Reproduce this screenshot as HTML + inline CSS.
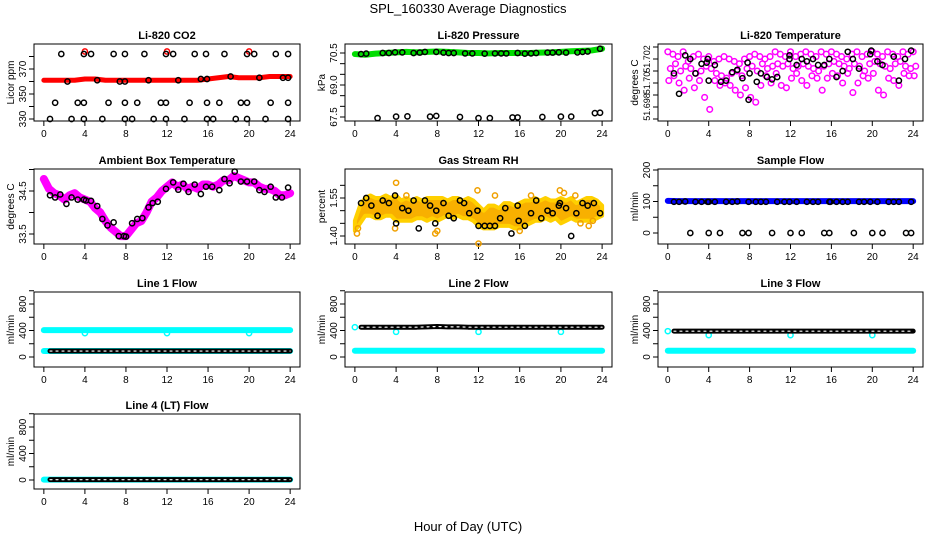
<!DOCTYPE html>
<html><head><meta charset="utf-8"><style>
html,body{margin:0;padding:0;background:#fff}
svg{display:block;font-family:"Liberation Sans",Arial,sans-serif}
</style></head><body>
<svg id="c" width="936" height="540" viewBox="0 0 936 540" xmlns="http://www.w3.org/2000/svg">
<text x="468" y="13" text-anchor="middle" font-size="13">SPL_160330  Average Diagnostics</text>
<text x="468" y="531" text-anchor="middle" font-size="13">Hour of Day (UTC)</text>
</svg>
<script>
// ---------- data ----------
const hours = [0,1,2,3,4,5,6,7,8,9,10,11,12,13,14,15,16,17,18,19,20,21,22,23,24];
const co2Red = [361,361,361,361,362,362,361,361,361,361,361,361,361,361,361,361,362,363,364,363,363,363,364,364,364];
const co2RedOutT = [4,12,20];
const co2RedOutV = [384,384,384];
const co2BlackT = [1.7,3.9,4.6,6.8,7.9,9.8,11.9,12.6,14.7,15.8,17.6,19.8,20.5,22.6,23.8, 2.3,5.2,7.4,7.9,10.2,13.1,15.3,15.9,18.2,21,23.3,23.8, 1.1,3.3,3.9,6.3,7.9,9.1,11.4,11.9,14.2,15.9,17.1,19.2,19.8,22.1,23.8, 0.6,2.7,3.9,5.7,7.9,8.6,10.7,11.9,13.7,15.9,16.5,18.7,19.8,21.6,23.8];
const co2BlackV = [382,382,382,382,382,382,382,382,382,382,382,382,382,382,382, 360,361,360,360,361,361,362,362,364,363,363,363, 343,343,343,343,343,343,343,343,343,343,343,343,343,343,343, 330,330,330,330,330,330,330,330,330,330,330,330,330,330,330];

const presGreen = [70.45,70.42,70.47,70.5,70.53,70.55,70.53,70.55,70.57,70.55,70.53,70.5,70.5,70.48,70.5,70.5,70.5,70.5,70.52,70.53,70.55,70.58,70.6,70.62,70.7];
const presBlackT = [0.6,1.1,2.7,3.3,3.9,4.6,5.7,6.3,6.8,7.9,8.6,9.1,9.6,10.7,11.4,12.6,13.6,14.2,14.7,15.8,16.5,17.1,17.6,18.7,19.2,19.8,20.5,21.6,22.1,22.6,23.8, 2.2,4,5.1,7.3,7.9,10.2,12,13.1,15.3,15.8,18.2,20,21,23.3,23.8];
const presBlackV = [70.45,70.47,70.5,70.5,70.53,70.53,70.5,70.52,70.55,70.55,70.52,70.5,70.5,70.48,70.48,70.47,70.48,70.48,70.48,70.5,70.47,70.48,70.5,70.52,70.52,70.53,70.52,70.53,70.55,70.57,70.7, 67.45,67.52,67.53,67.52,67.55,67.5,67.45,67.45,67.48,67.48,67.5,67.52,67.52,67.68,67.7];

const halfHours = [0,0.5,1,1.5,2,2.5,3,3.5,4,4.5,5,5.5,6,6.5,7,7.5,8,8.5,9,9.5,10,10.5,11,11.5,12,12.5,13,13.5,14,14.5,15,15.5,16,16.5,17,17.5,18,18.5,19,19.5,20,20.5,21,21.5,22,22.5,23,23.5,24];
const tempMagA = [51.7026,51.7024,51.7022,51.7026,51.7018,51.7022,51.7024,51.7020,51.7022,51.7018,51.7020,51.7022,51.7020,51.7018,51.7016,51.7020,51.7022,51.7024,51.7022,51.7020,51.7022,51.7026,51.7024,51.7022,51.7026,51.7022,51.7024,51.7026,51.7024,51.7022,51.7026,51.7024,51.7026,51.7024,51.7022,51.7020,51.7024,51.7026,51.7022,51.7024,51.7026,51.7024,51.7022,51.7026,51.7024,51.7022,51.7026,51.7024,51.7026];
const tempMagB = [51.7012,51.7016,51.7010,51.7014,51.7012,51.7008,51.7010,51.7014,51.7012,51.7008,51.7006,51.7004,51.7008,51.7010,51.7006,51.7012,51.7014,51.7010,51.7016,51.7012,51.7014,51.7016,51.7014,51.7016,51.7012,51.7014,51.7016,51.7014,51.7012,51.7010,51.7014,51.7016,51.7018,51.7016,51.7014,51.7012,51.7016,51.7014,51.7010,51.7016,51.7018,51.7016,51.7014,51.7012,51.7016,51.7018,51.7014,51.7012,51.7014];
const tempMagC = [51.7002,51.7006,51.7000,51.6994,51.7004,51.6996,51.7002,51.6988,51.6978,51.7002,51.6998,51.7000,51.6998,51.6994,51.6990,51.6996,51.6988,51.6984,51.6998,51.7006,51.7000,51.7008,51.6998,51.6996,51.7004,51.7008,51.7002,51.6998,51.7006,51.7004,51.6994,51.7004,51.7008,51.7006,51.7000,51.7008,51.6992,51.7000,51.7006,51.7004,51.7008,51.6994,51.6990,51.7004,51.7002,51.6998,51.7008,51.7006,51.7006];
const tempBlackT = [0.6,1.1,1.7,2.2,2.7,3.3,3.8,3.9,4.0,4.6,5.2,5.7,6.3,6.8,7.3,7.8,7.9,8.0,8.7,9.1,9.7,10.2,10.7,11.9,11.9,12.6,13.1,13.6,14.2,14.7,15.3,15.8,16.5,17.1,17.6,18.1,18.7,19.8,19.9,20.5,21.0,22.1,22.6,23.2,23.8];
const tempBlackV = [51.7008,51.6991,51.7023,51.7020,51.7008,51.7016,51.7017,51.7020,51.7002,51.7015,51.7001,51.7002,51.7009,51.7011,51.7004,51.7017,51.6986,51.7008,51.7001,51.7008,51.7005,51.7003,51.7005,51.7020,51.7023,51.7015,51.7020,51.7018,51.7020,51.7015,51.7015,51.7020,51.7005,51.7010,51.7026,51.7020,51.7012,51.7024,51.7027,51.7018,51.7015,51.7022,51.7002,51.7020,51.7027];

const ambMag = [34.78,34.55,34.45,34.4,34.3,34.4,34.45,34.35,34.3,34.25,34.1,34.0,33.8,33.65,33.55,33.45,33.45,33.6,33.75,33.8,34.0,34.25,34.35,34.5,34.6,34.7,34.6,34.65,34.55,34.6,34.55,34.65,34.65,34.6,34.65,34.75,34.75,34.85,34.8,34.75,34.7,34.7,34.6,34.55,34.55,34.5,34.4,34.4,34.45];
const ambBlackT = [0.6,1.1,1.6,2.2,2.7,3.3,3.9,4.1,4.6,5.2,5.7,6.2,6.8,7.3,7.8,8,8.6,9.1,9.6,10.2,10.6,11.1,11.9,12.6,13.1,13.6,14.1,14.7,15.3,15.8,16.4,17.1,17.6,18.1,18.6,19.2,19.8,20.5,21,21.5,22.1,22.6,23.2,23.8];
const ambBlackV = [34.4,34.35,34.42,34.2,34.35,34.3,34.3,34.28,34.27,34.15,33.85,33.7,33.77,33.45,33.45,33.44,33.75,33.85,33.87,34.12,34.22,34.25,34.55,34.7,34.53,34.67,34.48,34.65,34.43,34.6,34.6,34.52,34.78,34.68,34.95,34.72,34.72,34.72,34.52,34.48,34.6,34.35,34.35,34.58];

const rhHi = [1.46,1.52,1.55,1.56,1.55,1.55,1.56,1.55,1.56,1.54,1.55,1.54,1.55,1.54,1.55,1.55,1.55,1.55,1.54,1.55,1.55,1.54,1.55,1.54,1.52,1.50,1.52,1.52,1.51,1.53,1.53,1.52,1.53,1.54,1.54,1.55,1.54,1.55,1.54,1.54,1.55,1.54,1.55,1.53,1.54,1.55,1.55,1.54,1.52];
const rhLo = [1.42,1.45,1.48,1.48,1.47,1.47,1.48,1.48,1.46,1.46,1.46,1.46,1.47,1.47,1.46,1.47,1.46,1.47,1.48,1.47,1.48,1.47,1.47,1.46,1.44,1.43,1.43,1.43,1.44,1.44,1.44,1.43,1.43,1.44,1.45,1.46,1.46,1.47,1.46,1.47,1.45,1.46,1.47,1.46,1.46,1.46,1.46,1.47,1.48];
const rhOutT = [0.2,0.3,4,5,3.9,7.8,8,11.9,12,13.6,16,17.1,19.9,20.3,21.4,22.7,23.1,21.9];
const rhOutV = [1.41,1.43,1.61,1.56,1.43,1.41,1.42,1.58,1.37,1.56,1.42,1.56,1.58,1.57,1.56,1.44,1.46,1.45];
const rhBlackT = [0.6,1.1,1.6,2.2,2.7,3.3,3.9,4.0,4.6,5.2,5.7,6.2,6.8,7.3,7.8,7.9,8.6,9.1,9.6,10.2,10.6,11.1,11.9,12.0,12.6,13.1,13.6,14.1,14.6,15.2,15.8,15.9,16.5,17.1,17.6,18.1,18.7,19.2,19.8,19.9,20.5,21.0,21.5,22.1,22.6,23.2,23.8];
const rhBlackV = [1.53,1.55,1.52,1.48,1.54,1.53,1.56,1.45,1.51,1.50,1.54,1.43,1.54,1.52,1.45,1.50,1.53,1.48,1.47,1.54,1.53,1.49,1.50,1.44,1.44,1.44,1.44,1.47,1.51,1.41,1.52,1.46,1.44,1.49,1.54,1.47,1.50,1.49,1.52,1.53,1.51,1.40,1.49,1.53,1.52,1.53,1.49];

const flowBlue = [102,101,101,101,101,101,101,101,101,101,101,101,101,101,101,101,101,101,101,101,101,101,101,101,101];
const flowBlackT = [0.6,1.1,1.7,2.7,3.3,3.9,4.0,4.6,5.7,6.3,6.8,7.9,8.6,9.1,9.6,10.7,11.4,11.9,12.6,13.6,14.2,14.7,15.8,15.9,16.5,17.1,17.6,18.7,19.2,19.8,20.5,21.6,22.1,22.6,23.8, 2.2,4,5.1,7.3,7.9,10.2,12,13.1,15.3,15.8,18.2,20,21,23.3,23.8];
const flowBlackV = [99,99,100,99,99,99,99,99,99,99,100,99,99,99,99,99,99,99,99,99,99,99,99,99,99,99,99,99,99,99,99,99,99,99,99, 0,0,0,0,0,0,0,0,0,0,0,0,0,0,0];

const line1Cyan = [405,405,405,405,405,405,405,405,405,405,405,405,405,405,405,405,405,405,405,405,405,405,405,405,405];
const line1Low = [90,90,90,90,90,90,90,90,90,90,90,90,90,90,90,90,90,90,90,90,90,90,90,90,90];
const line1Dip = [4,12,20];
const line2Cyan = [95,95,95,95,95,95,95,95,95,95,95,95,95,95,95,95,95,95,95,95,95,95,95,95,95];
const line2Black = [450,450,450,450,450,450,450,455,460,455,455,450,450,450,450,450,450,450,450,450,450,450,450,450,450];
const line3Cyan = [95,95,95,95,95,95,95,95,95,95,95,95,95,95,95,95,95,95,95,95,95,95,95,95,95];
const line3Black = [390,390,390,390,390,390,390,390,390,390,390,390,390,390,390,390,390,390,390,390,390,390,390,390,390];
const line4Cyan = [5,5,5,5,5,5,5,5,5,5,5,5,5,5,5,5,5,5,5,5,5,5,5,5,5];
const line4Black = [5,5,5,5,5,5,5,5,5,5,5,5,5,5,5,5,5,5,5,5,5,5,5,5,5];

// ---------- drawing ----------
const NS = "http://www.w3.org/2000/svg";
const svg = document.getElementById('c');
function mk(tag, attrs, parent){const e=document.createElementNS(NS,tag);for(const k in attrs)e.setAttribute(k,attrs[k]);(parent||svg).appendChild(e);return e;}

function panel(o){
  const g = mk('g',{});
  
  
  const xs = t => o.x0 + (t+0.96)/25.92*(o.x1-o.x0);
  const ys = v => o.p1 + (v-o.v1)/(o.v2-o.v1)*(o.p2-o.p1);
  const box = mk('rect',{x:o.x0,y:o.y0,width:o.x1-o.x0,height:o.y1-o.y0,fill:'none',stroke:'#000','stroke-width':1},g);
  
  
  const t = mk('text',{x:(o.x0+o.x1)/2,y:o.y0-5,'text-anchor':'middle','font-size':11,'font-weight':'bold'},g);
  t.textContent = o.title;
  
  
  [0,4,8,12,16,20,24].forEach(h=>{
    const x = xs(h);
    mk('line',{x1:x,x2:x,y1:o.y1,y2:o.y1+5,stroke:'#000'},g);
    const l = mk('text',{x:x,y:o.y1+16,'text-anchor':'middle','font-size':10},g);
    l.textContent = h;
    
    
  });
  mk('line',{x1:xs(0),x2:xs(24),y1:o.y1,y2:o.y1,stroke:'#000'},g);
  o.ticks.forEach(v=>{
    const y = ys(v);
    mk('line',{x1:o.x0-5,x2:o.x0,y1:y,y2:y,stroke:'#000'},g);
  });
  o.labels.forEach((lab,i)=>{
    const y = ys(o.labelVals[i]);
    const l = mk('text',{x:0,y:0,'text-anchor':'middle','font-size':o.lfs||10,transform:`translate(${o.x0-8},${y}) rotate(-90)`},g);
    l.textContent = lab;
    
    
  });
  const yl = mk('text',{x:0,y:0,'text-anchor':'middle','font-size':10,transform:`translate(${o.x0-20},${(o.y0+o.y1)/2}) rotate(-90)`},g);
  yl.textContent = o.ylab;
  
  
  const clip = mk('g',{},g);
  return {g:clip,xs,ys};
}
function band(p, ts, vs, color, w, name){
  const pts = ts.map((t,i)=>p.xs(t)+','+p.ys(vs[i])).join(' ');
  const e = mk('polyline',{points:pts,fill:'none',stroke:color,'stroke-width':w,'stroke-linejoin':'round','stroke-linecap':'round'},p.g);
  
  
  return e;
}
function pts(p, ts, vs, color, r, name, sw){
  ts.forEach((t,i)=>{
    const c = mk('circle',{cx:p.xs(t),cy:p.ys(vs[i]),r:r||2.6,fill:'none',stroke:color,'stroke-width':sw||1.5},p.g);
    
    
  });
}
function chain(p, ts, vs, name){
  band(p, ts, vs, '#000', 5, name);
  const e = band(p, ts, vs, '#ffffff', 1.2, name+'-holes');
  e.setAttribute('stroke-dasharray','2 4');
}

// CO2
let p = panel({name:'panel-co2',title:'Li-820 CO2',ylab:'Licor ppm',x0:34,x1:300,y0:44,y1:121,v1:330,p1:119,v2:370,p2:69,ticks:[330,340,350,360,370,380],labels:['330','350','370'],labelVals:[330,350,370]});
band(p, hours, co2Red, '#ff0000', 5, 'co2-series-red');
pts(p, co2RedOutT, co2RedOutV, '#ff0000', 2.6, 'co2-red-outlier');
pts(p, co2BlackT, co2BlackV, '#000', 2.6, 'co2-point-black');

// Pressure
p = panel({name:'panel-pressure',title:'Li-820 Pressure',ylab:'kPa',x0:345,x1:612,y0:44,y1:121,v1:67.5,p1:117,v2:70.5,p2:53,ticks:[67.5,68,68.5,69,69.5,70,70.5],labels:['67.5','69.0','70.5'],labelVals:[67.5,69,70.5]});
band(p, hours, presGreen, '#00dd00', 6, 'pressure-series-green');
pts(p, presBlackT, presBlackV, '#000', 2.6, 'pressure-point-black');

// Temperature
p = panel({name:'panel-li820-temperature',title:'Li-820 Temperature',ylab:'degrees C',lfs:9,x0:658,x1:923,y0:44,y1:121,v1:51.698,p1:107,v2:51.702,p2:59,ticks:[51.697,51.698,51.699,51.700,51.701,51.702,51.703],labels:['51.698','51.70','51.702'],labelVals:[51.698,51.700,51.702]});
pts(p, halfHours, tempMagA, '#ff00ff', 2.8, 'temp-point-magenta');
pts(p, halfHours.map(t=>t+0.25), tempMagB, '#ff00ff', 2.8, 'temp-point-magenta');
pts(p, halfHours.map(t=>t+0.1), tempMagC, '#ff00ff', 2.8, 'temp-point-magenta');
pts(p, tempBlackT, tempBlackV, '#000', 2.6, 'temp-point-black');

// Ambient
p = panel({name:'panel-ambient-temperature',title:'Ambient Box Temperature',ylab:'degrees C',x0:34,x1:300,y0:169,y1:244,v1:33.5,p1:234,v2:34.5,p2:191,ticks:[33.5,34,34.5,35],labels:['33.5','34.5'],labelVals:[33.5,34.5]});
band(p, halfHours, ambMag, '#ff00ff', 8, 'ambient-series-magenta');
pts(p, ambBlackT, ambBlackV, '#000', 2.6, 'ambient-point-black');

// RH
p = panel({name:'panel-gas-rh',title:'Gas Stream RH',ylab:'percent',x0:345,x1:612,y0:169,y1:244,v1:1.40,p1:236,v2:1.55,p2:198,ticks:[1.40,1.45,1.50,1.55,1.60],labels:['1.40','1.55'],labelVals:[1.40,1.55]});
{
  const ptsStr = halfHours.map((t,i)=>p.xs(t)+','+p.ys(rhHi[i])).concat(halfHours.slice().reverse().map((t,j)=>{const i=halfHours.length-1-j;return p.xs(t)+','+p.ys(rhLo[i]);})).join(' ');
  const poly = mk('polygon',{points:ptsStr,fill:'#f8b000',stroke:'#ffd000','stroke-width':4,'stroke-linejoin':'round'},p.g);
  
  
}
pts(p, rhOutT, rhOutV, '#f0a000', 2.6, 'rh-outlier');
pts(p, rhBlackT, rhBlackV, '#000', 2.6, 'rh-point-black');

// Sample flow
p = panel({name:'panel-sample-flow',title:'Sample Flow',ylab:'ml/min',x0:658,x1:923,y0:169,y1:244,v1:0,p1:233,v2:200,p2:170,ticks:[0,50,100,150,200],labels:['0','100','200'],labelVals:[0,100,200]});
band(p, hours, flowBlue, '#0000ff', 6, 'sample-flow-series-blue');
pts(p, flowBlackT, flowBlackV, '#000', 2.6, 'sample-flow-point-black');

// Line flows
const fticks=[0,200,400,600,800,1000];
p = panel({name:'panel-line1-flow',title:'Line 1 Flow',ylab:'ml/min',x0:34,x1:300,y0:292,y1:367,v1:0,p1:357,v2:800,p2:304,ticks:fticks,labels:['0','400','800'],labelVals:[0,400,800]});
band(p, hours, line1Cyan, '#00ffff', 6, 'line1-series-cyan');
band(p, hours, line1Low, '#00ffff', 6, 'line1-series-cyan-low');
pts(p, line1Dip, line1Dip.map(()=>360), '#00ffff', 2.6, 'line1-dip');
chain(p, hours.map(h=>h===0?0.6:h), line1Low, 'line1-series-black');

p = panel({name:'panel-line2-flow',title:'Line 2 Flow',ylab:'ml/min',x0:345,x1:612,y0:292,y1:367,v1:0,p1:357,v2:800,p2:304,ticks:fticks,labels:['0','400','800'],labelVals:[0,400,800]});
band(p, hours, line2Cyan, '#00ffff', 6, 'line2-series-cyan');
pts(p, [0,4,12,20], [450,380,380,380], '#00ffff', 2.6, 'line2-cyan-point');
chain(p, hours.map(h=>h===0?0.6:h), line2Black, 'line2-series-black');

p = panel({name:'panel-line3-flow',title:'Line 3 Flow',ylab:'ml/min',x0:658,x1:923,y0:292,y1:367,v1:0,p1:357,v2:800,p2:304,ticks:fticks,labels:['0','400','800'],labelVals:[0,400,800]});
band(p, hours, line3Cyan, '#00ffff', 6, 'line3-series-cyan');
pts(p, [0,4,12,20], [390,330,330,330], '#00ffff', 2.6, 'line3-cyan-point');
chain(p, hours.map(h=>h===0?0.6:h), line3Black, 'line3-series-black');

p = panel({name:'panel-line4-flow',title:'Line 4 (LT) Flow',ylab:'ml/min',x0:34,x1:300,y0:414,y1:489,v1:0,p1:480,v2:800,p2:427,ticks:fticks,labels:['0','400','800'],labelVals:[0,400,800]});
band(p, hours, line4Cyan, '#00ffff', 6, 'line4-series-cyan');
chain(p, hours.map(h=>h===0?0.6:h), line4Black, 'line4-series-black');
</script>
</body></html>
